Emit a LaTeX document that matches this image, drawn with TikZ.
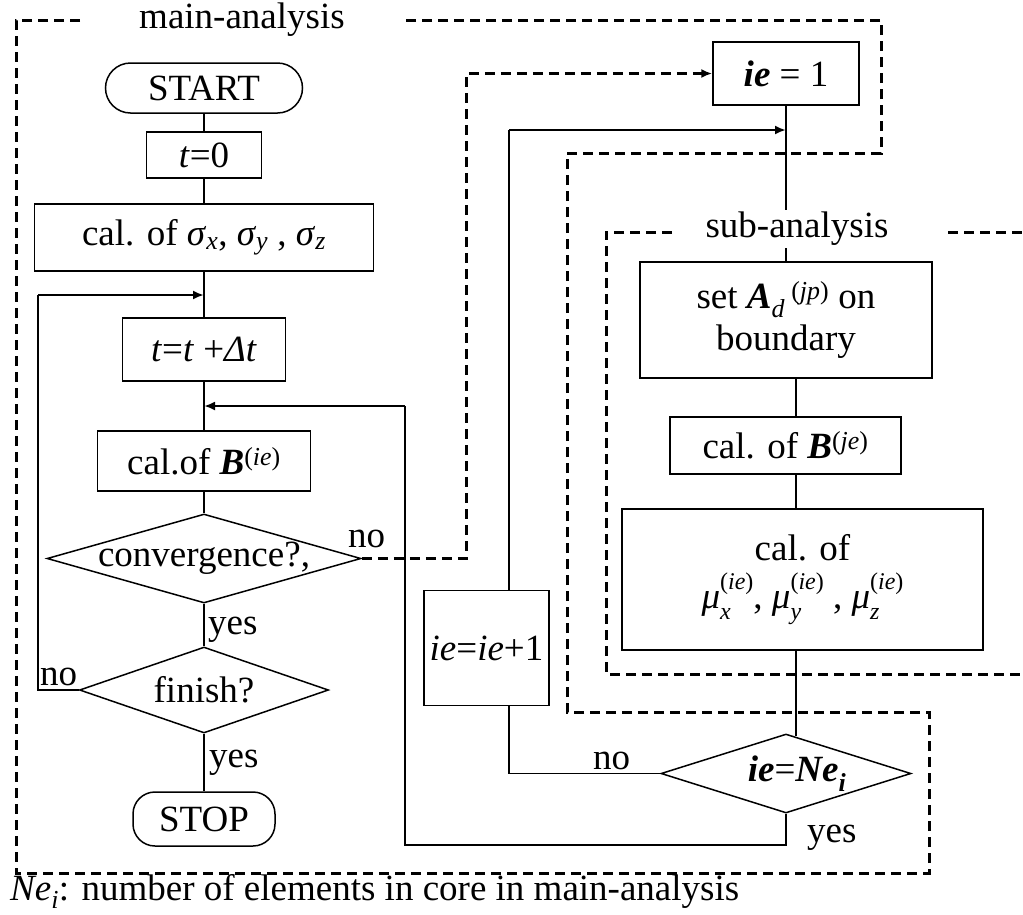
\documentclass[tikz,border=0pt]{standalone}
\usepackage{fontspec}
\setmainfont{Liberation Serif}
\usetikzlibrary{arrows.meta,shapes.geometric,calc}
\newcommand{\bi}[1]{\textbf{\textit{#1}}}
\newcommand{\ssp}[2]{\rlap{\raisebox{-0.3em}{\fontsize{24}{24}\selectfont #2}}\raisebox{0.5em}{\fontsize{24}{24}\selectfont #1}}
\begin{document}
\begin{tikzpicture}[x=1pt,y=-1pt,
  every node/.style={font=\fontsize{37}{42}\selectfont},
  box/.style={draw,line width=1.5pt,inner sep=0pt,align=center},
  term/.style={box,rounded corners=25pt},
  dec/.style={draw,line width=1.5pt,diamond,inner sep=0pt},
  ln/.style={line width=1.5pt},
  arr/.style={line width=2.8pt,-{Latex[length=11pt,width=9pt]}},
  dsh/.style={line width=3pt,dash pattern=on 10pt off 6pt},
  dar/.style={dsh,-{Latex[length=11pt,width=9pt]}},
  lab/.style={anchor=base west,inner sep=0pt}]
\useasboundingbox (0,0) rectangle (1023,914);
% main column
\node[term,minimum width=197pt,minimum height=50pt] (start) at (204,88) {START};
\node[box,minimum width=115pt,minimum height=46pt] (t0) at (204,155) {\textit{t}=0};
\node[box,minimum width=339pt,minimum height=67pt] (sig) at (204,237.5) {cal. of \textit{σ}\textsubscript{\textit{x}}, \textit{σ}\textsubscript{\textit{y}} , \textit{σ}\textsubscript{\textit{z}}};
\node[box,minimum width=163pt,minimum height=63pt] (tdt) at (204,349.5) {\textit{t}=\textit{t} +\textit{Δt}};
\node[box,minimum width=213pt,minimum height=60pt] (bie) at (204,461) {cal.of \bi{B}\textsuperscript{(\textit{ie})}};
\node[dec,minimum width=314pt,minimum height=89pt,label={center:convergence?,}] (conv) at (204,558.5) {};
\node[dec,minimum width=249pt,minimum height=86pt,label={center:finish?}] (fin) at (204,690) {};
\node[term,rounded corners=22pt,minimum width=142pt,minimum height=54pt] (stop) at (204,819) {STOP};
% right column
\node[box,minimum width=146pt,minimum height=63pt] (ie1) at (786,73.5) {\bi{ie} = 1};
\node[box,minimum width=292pt,minimum height=116pt] (setA) at (786,320) {set \bi{A}\textsubscript{\textit{d}}\,\textsuperscript{(\textit{jp})} on\\boundary};
\node[box,minimum width=231pt,minimum height=57pt] (bje) at (785.5,445.5) {cal. of \bi{B}\textsuperscript{(\textit{je})}};
\node[box,minimum width=361pt,minimum height=141pt,font=\fontsize{37}{48}\selectfont] (mu) at (802.5,579.5) {cal. of\\\textit{μ}\ssp{(\textit{ie})}{\textit{x}}, \textit{μ}\ssp{(\textit{ie})}{\textit{y}} , \textit{μ}\ssp{(\textit{ie})}{\textit{z}}};
\node[dec,minimum width=250pt,minimum height=79pt,label={[xshift=11pt]center:\bi{ie}=\bi{Ne}\textsubscript{\bi{i}}}] (neq) at (786,773.5) {};
\node[box,minimum width=125pt,minimum height=115pt] (iep) at (486.5,648) {\textit{ie}=\textit{ie}+1};
% helper coordinates
\coordinate (j1) at (204,295);
\coordinate (j2) at (204,406);
\coordinate (j3) at (786,130);
\coordinate (lx1) at (38,295);
\coordinate (r1) at (405,845);
\coordinate (r2) at (405,406);
\coordinate (r3) at (509,130);
\coordinate (cl) at (509,0);
\coordinate (cx) at (796,0);
\coordinate (cd) at (466,0);
% main column connectors
\draw[ln] (start) -- (t0);
\draw[ln] (t0) -- (sig);
\draw[ln] (sig) -- (tdt);
\draw[ln] (tdt) -- (bie);
\draw[ln] (bie) -- (conv);
\draw[ln] (conv) -- (fin);
\draw[ln] (fin) -- (stop);
\draw[ln] (fin.west) -| (lx1);
\draw[arr] (lx1) -- (j1);
% right column connectors
\draw[ln] (ie1) -- (setA);
\draw[ln] (setA.south -| cx) -- (bje.north -| cx);
\draw[ln] (bje.south -| cx) -- (mu.north -| cx);
\draw[ln,shorten >=-3pt] (mu.south -| cx) -- (neq.north -| cx);
\draw[ln] (neq.south) |- (r1) -- (r2);
\draw[arr] (r2) -- (j2);
\draw[ln] (neq.west) -| (iep.south -| cl);
\draw[ln] (iep.north -| cl) -- (r3);
\draw[arr] (r3) -- (j3);
\draw[dar] (conv.east) -- (conv.east -| cd) |- (ie1.west);
% dashed boundaries
\draw[dsh] (80,20) -- (16,20) -- (16,873) -- (929,873) -- (929,712) -- (567,712) -- (567,153) -- (881,153) -- (881,20) -- (405,20);
\draw[dsh] (672,232) -- (606,232) -- (606,674) -- (1023,674);
\draw[dsh] (948,232) -- (1023,232);
% labels
\node (mainlab) at (242,20) {main-analysis};
\node[fill=white,inner sep=2pt] (sublab) at (797,229) {sub-analysis};
\node[lab] (no1) at (348,547) {no};
\node[lab] (yes1) at (208,634) {yes};
\node[lab] (no2) at (40,685) {no};
\node[lab] (yes2) at (209,767) {yes};
\node[lab] (no3) at (593,769) {no};
\node[lab] (yes3) at (807,842) {yes};
\node[lab] (foot) at (10,900) {\textit{Ne}\textsubscript{\textit{i}}: number of elements in core in main-analysis};
\end{tikzpicture}
\end{document}
